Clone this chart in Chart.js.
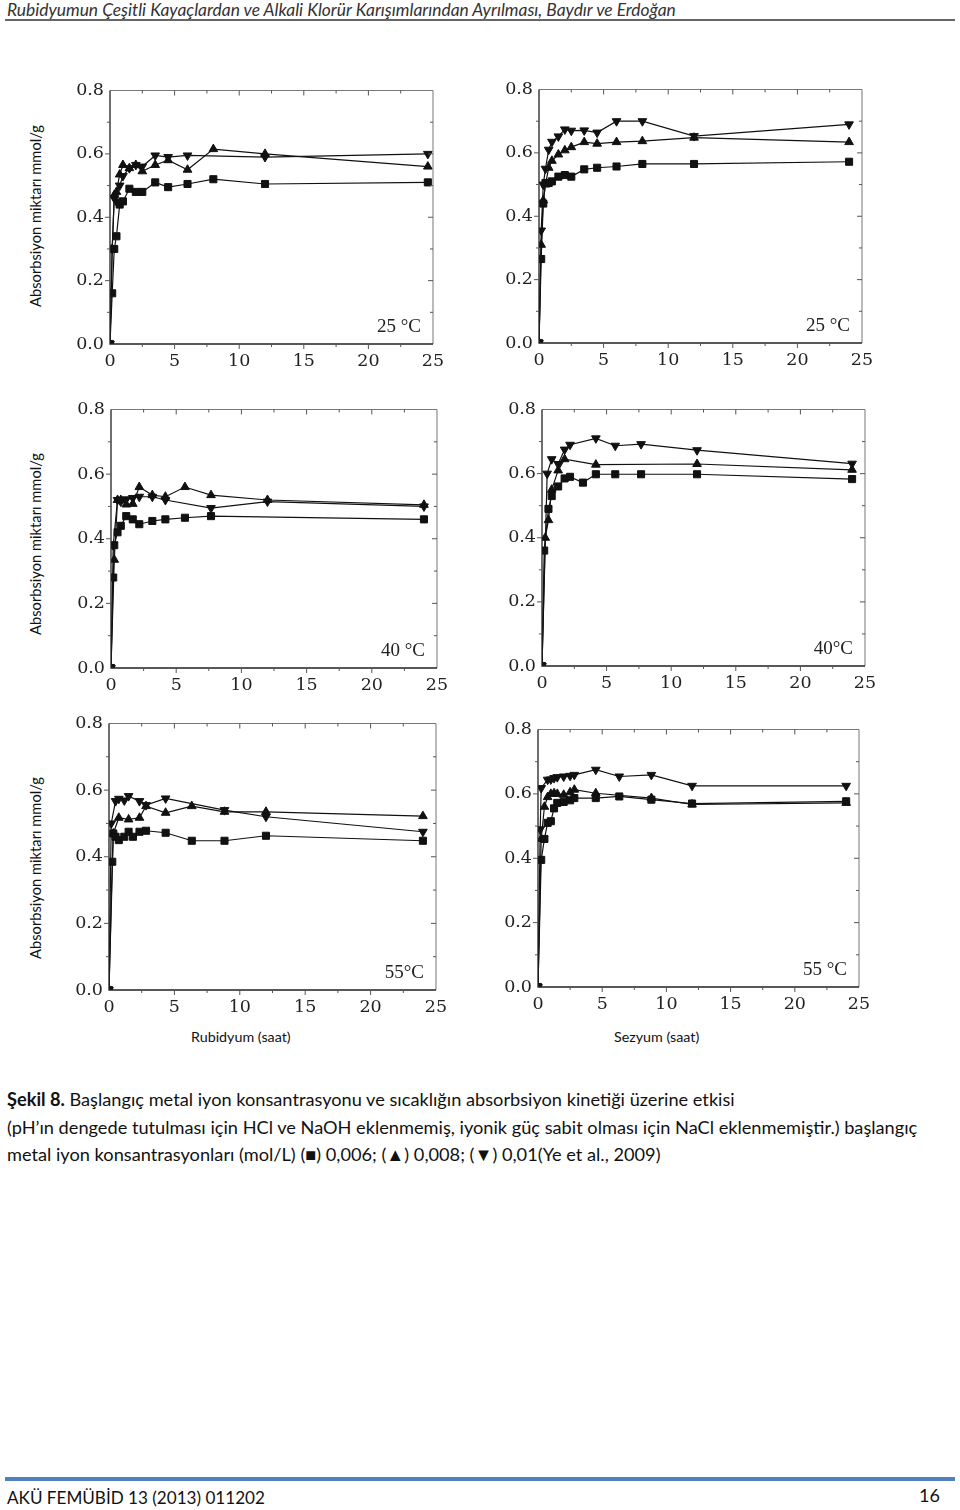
<!DOCTYPE html>
<html>
<head>
<meta charset="utf-8">
<script src="https://cdn.jsdelivr.net/npm/chart.js@4.4.0/dist/chart.umd.min.js"></script>
<style>
    body { margin: 0; background: #fff; width: 960px; height: 1510px; position: relative; overflow: hidden;
           font-family: Lato, "Noto Sans", sans-serif; color: #111; }
    .abs { position: absolute; }
    .head { left: 7px; top: -1px; font-style: italic; font-size: 17.4px; color: #333; white-space: nowrap; }
    .headline { left: 5px; top: 19px; width: 950px; height: 2px; background: #666; }
    .ylab { width: 260px; text-align: center; font-size: 14.7px; line-height: 20px; transform: rotate(-90deg); white-space: nowrap; }
    .xlab { font-size: 14.3px; white-space: nowrap; }
    .caption { left: 7px; top: 1086px; width: 950px; font-size: 18.2px; line-height: 27.5px; }
    .footline { left: 5px; top: 1477px; width: 950px; height: 4px; background: #4f81bd; }
    .foot { left: 7px; top: 1487px; font-size: 17.1px; white-space: nowrap; }
    .pageno { left: 919px; top: 1484px; font-size: 18px; }
    canvas { position: absolute; }
</style>
</head>
<body>
<div class="abs head">Rubidyumun Çeşitli Kayaçlardan ve Alkali Klorür Karışımlarından Ayrılması, Baydır ve Erdoğan</div>
<div class="abs headline"></div>

<div class="abs ylab" style="left:-95px; top:206px;">Absorbsiyon miktarı mmol/g</div>
<div class="abs ylab" style="left:-95px; top:534px;">Absorbsiyon miktarı mmol/g</div>
<div class="abs ylab" style="left:-95px; top:858px;">Absorbsiyon miktarı mmol/g</div>

<canvas id="rb25"></canvas>
<canvas id="cs25"></canvas>
<canvas id="rb40"></canvas>
<canvas id="cs40"></canvas>
<canvas id="rb55"></canvas>
<canvas id="cs55"></canvas>

<div class="abs xlab" style="left:191px; top:1028px;">Rubidyum (saat)</div>
<div class="abs xlab" style="left:614px; top:1028px;">Sezyum (saat)</div>

<div class="abs caption"><b>Şekil 8.</b> Başlangıç metal iyon konsantrasyonu ve sıcaklığın absorbsiyon kinetiği üzerine etkisi<br>(pH’ın dengede tutulması için HCl ve NaOH eklenmemiş, iyonik güç sabit olması için NaCl eklenmemiştir.) başlangıç<br>metal iyon konsantrasyonları (mol/L) (■) 0,006; (▲) 0,008; (▼) 0,01(Ye et al., 2009)</div>

<div class="abs footline"></div>
<div class="abs foot">AKÜ FEMÜBİD 13 (2013) 011202</div>
<div class="abs pageno">16</div>

<script>
(function() {
    // Rubidyum 25 C
    var rb25Time = [0, 0.17, 0.33, 0.5, 0.75, 1, 1.5, 2, 2.5, 3.5, 4.5, 6, 8, 12, 24.6];
    var rb25Sq   = [0, 0.16, 0.30, 0.34, 0.44, 0.45, 0.49, 0.48, 0.48, 0.51, 0.495, 0.505, 0.52, 0.505, 0.51];
    var rb25Up   = [0, 0.30, 0.47, 0.48, 0.535, 0.565, 0.555, 0.565, 0.545, 0.565, 0.58, 0.55, 0.615, 0.60, 0.56];
    var rb25Down = [0, 0.30, 0.46, 0.45, 0.50, 0.53, 0.555, 0.565, 0.56, 0.595, 0.59, 0.595, null, 0.59, 0.60];

    // Sezyum 25 C
    var cs25Time = [0, 0.17, 0.33, 0.5, 0.75, 1, 1.5, 2, 2.5, 3.5, 4.5, 6, 8, 12, 24];
    var cs25Sq   = [0, 0.265, 0.44, 0.505, 0.505, 0.51, 0.525, 0.53, 0.525, 0.548, 0.553, 0.557, 0.565, 0.565, 0.572];
    var cs25Up   = [0, 0.31, 0.45, 0.50, 0.553, 0.575, 0.595, 0.608, 0.618, 0.634, 0.629, 0.634, 0.637, 0.648, 0.634];
    var cs25Down = [0, 0.355, 0.50, 0.55, 0.61, 0.635, 0.652, 0.674, 0.67, 0.671, 0.664, 0.70, 0.70, 0.653, 0.69];

    // Rubidyum 40 C
    var rb40Time = [0, 0.17, 0.25, 0.5, 0.75, 1.17, 1.67, 2.17, 3.17, 4.17, 5.67, 7.67, 12, 24];
    var rb40Sq   = [0, 0.28, 0.38, 0.42, 0.44, 0.47, 0.46, 0.445, 0.455, 0.46, 0.465, 0.47, null, 0.46];
    var rb40Up   = [0, null, 0.335, 0.52, 0.52, 0.506, 0.508, 0.56, 0.535, 0.53, 0.56, 0.535, 0.52, 0.505];
    var rb40Down = [0, 0.38, null, 0.52, 0.515, 0.522, 0.526, 0.53, 0.53, 0.52, null, 0.495, 0.515, 0.50];

    // Sezyum 40 C
    var cs40Time = [0, 0.17, 0.25, 0.4, 0.5, 0.75, 1.25, 1.75, 2.17, 3.17, 4.17, 5.67, 7.67, 12, 24];
    var cs40Sq   = [0, 0.36, null, null, 0.49, 0.53, 0.56, 0.585, 0.59, 0.572, 0.598, 0.598, 0.598, 0.598, 0.583];
    var cs40Up   = [0, null, 0.40, null, 0.455, 0.55, 0.61, 0.645, null, null, 0.628, null, null, 0.63, 0.612];
    var cs40Down = [0, null, null, 0.60, null, 0.645, 0.63, 0.675, 0.69, null, 0.71, 0.687, 0.692, 0.673, 0.631];

    // Rubidyum 55 C
    var rb55Time = [0, 0.17, 0.25, 0.33, 0.5, 0.75, 1.17, 1.5, 1.83, 2.33, 2.83, 4.33, 6.33, 8.83, 12, 24];
    var rb55Sq   = [0, null, 0.385, 0.47, 0.46, 0.45, 0.46, 0.475, 0.46, 0.475, 0.478, 0.472, 0.448, 0.448, 0.463, 0.448];
    var rb55Up   = [0, null, null, 0.47, null, 0.517, null, 0.512, null, 0.517, 0.552, 0.532, 0.552, 0.535, 0.535, 0.522];
    var rb55Down = [0, 0.50, null, null, 0.567, 0.574, 0.569, 0.582, null, 0.567, 0.555, 0.575, null, 0.54, 0.52, 0.475];

    // Sezyum 55 C
    var cs55Time = [0, 0.17, 0.25, 0.5, 0.75, 1, 1.25, 1.5, 2, 2.5, 2.83, 4.5, 6.33, 8.83, 12, 24];
    var cs55Sq   = [0, null, 0.395, 0.46, 0.51, 0.515, 0.555, 0.572, 0.575, 0.58, 0.587, 0.587, 0.592, 0.582, 0.57, 0.577];
    var cs55Up   = [0, null, 0.46, 0.56, 0.59, 0.60, 0.602, 0.60, 0.597, 0.605, 0.613, 0.602, null, 0.587, 0.567, 0.572];
    var cs55Down = [0, 0.49, 0.618, null, 0.644, 0.645, 0.649, 0.652, 0.654, 0.656, 0.659, 0.675, 0.654, 0.659, 0.625, 0.625];

    var xTicks = [0, 5, 10, 15, 20, 25];
    var yTicks = [0, 0.2, 0.4, 0.6, 0.8];

    var panels = [
        { id: 'rb25', box: [110, 89, 433, 344], label: '25 °C', time: rb25Time, sq: rb25Sq, up: rb25Up, down: rb25Down },
        { id: 'cs25', box: [539, 88, 862, 343], label: '25 °C', time: cs25Time, sq: cs25Sq, up: cs25Up, down: cs25Down },
        { id: 'rb40', box: [111, 408, 437, 668], label: '40 °C', time: rb40Time, sq: rb40Sq, up: rb40Up, down: rb40Down },
        { id: 'cs40', box: [542, 408, 865, 666], label: '40°C', time: cs40Time, sq: cs40Sq, up: cs40Up, down: cs40Down },
        { id: 'rb55', box: [109, 722, 436, 990], label: '55°C', time: rb55Time, sq: rb55Sq, up: rb55Up, down: rb55Down },
        { id: 'cs55', box: [538, 728, 859, 987], label: '55 °C', time: cs55Time, sq: cs55Sq, up: cs55Up, down: cs55Down }
    ];

    var serif = '"DejaVu Serif", "Liberation Serif", serif';
    var padLeft = 45, padTop = 15, padRight = 25, padBottom = 35;

    function toPoints(times, values) {
        var pts = [];
        times.forEach(function(t, i) {
            if (values[i] !== null) pts.push({ x: t, y: values[i] });
        });
        return pts;
    }

    // frame, small ticks and the temperature text
    var framePlugin = {
        id: 'frame',
        afterDraw: function(chart) {
            var ctx = chart.ctx, a = chart.chartArea;
            var xs = chart.scales.x, ys = chart.scales.y;
            ctx.save();
            ctx.lineWidth = 1;
            ctx.strokeStyle = '#777';
            ctx.beginPath();
            ctx.moveTo(a.left, a.top); ctx.lineTo(a.right, a.top); ctx.lineTo(a.right, a.bottom);
            ctx.stroke();
            ctx.strokeStyle = '#222';
            ctx.lineWidth = 1.3;
            ctx.beginPath();
            ctx.moveTo(a.left, a.top); ctx.lineTo(a.left, a.bottom); ctx.lineTo(a.right, a.bottom);
            ctx.stroke();

            ctx.lineWidth = 1;
            ctx.strokeStyle = '#555';
            ctx.beginPath();
            for (var i = 1; i < 10; i++) {
                var px = xs.getPixelForValue(i * 2.5);
                var len = i % 2 === 0 ? 5 : 3;
                ctx.moveTo(px, a.bottom); ctx.lineTo(px, a.bottom + len);
                ctx.moveTo(px, a.top); ctx.lineTo(px, a.top + len);
            }
            for (var j = 1; j < 8; j++) {
                var py = ys.getPixelForValue(j / 10);
                var l2 = j % 2 === 0 ? 5 : 3;
                ctx.moveTo(a.left, py); ctx.lineTo(a.left - l2, py);
                ctx.moveTo(a.right, py); ctx.lineTo(a.right - l2, py);
            }
            ctx.stroke();

            ctx.fillStyle = '#222';
            ctx.font = '19px "Liberation Serif", serif';
            ctx.textAlign = 'right';
            ctx.textBaseline = 'alphabetic';
            ctx.fillText(chart.options.plugins.frame.label, a.right - 12, a.bottom - 12);
            ctx.restore();
        }
    };

    function drawPanel(p) {
        var canvas = document.getElementById(p.id);
        var w = (p.box[2] - p.box[0]) + padLeft + padRight;
        var h = (p.box[3] - p.box[1]) + padTop + padBottom;
        canvas.style.left = (p.box[0] - padLeft) + 'px';
        canvas.style.top = (p.box[1] - padTop) + 'px';
        canvas.style.width = w + 'px';
        canvas.style.height = h + 'px';
        canvas.width = w;
        canvas.height = h;

        var common = {
            showLine: true,
            borderColor: '#111',
            backgroundColor: '#111',
            pointBackgroundColor: '#111',
            pointBorderColor: '#111',
            borderWidth: 1.2,
            pointBorderWidth: 1,
            tension: 0
        };
        var data = {
            datasets: [
                Object.assign({ label: '0,006', data: toPoints(p.time, p.sq), pointStyle: 'rect', pointRadius: 5 }, common),
                Object.assign({ label: '0,008', data: toPoints(p.time, p.up), pointStyle: 'triangle', pointRadius: 5 }, common),
                Object.assign({ label: '0,01', data: toPoints(p.time, p.down), pointStyle: 'triangle', pointRotation: 180, pointRadius: 5 }, common)
            ]
        };
        var options = {
            responsive: false,
            animation: false,
            layout: { padding: { top: padTop, right: padRight, left: 0, bottom: 0 } },
            plugins: { legend: { display: false }, tooltip: { enabled: false }, frame: { label: p.label } },
            scales: {
                x: {
                    type: 'linear', min: 0, max: 25,
                    afterBuildTicks: function(s) { s.ticks = xTicks.map(function(v) { return { value: v }; }); },
                    afterFit: function(s) { s.height = padBottom; },
                    grid: { display: false, drawTicks: false },
                    border: { display: false },
                    ticks: { font: { family: serif, size: 17.5 }, color: '#222', padding: 7, maxRotation: 0 }
                },
                y: {
                    type: 'linear', min: 0, max: 0.8,
                    afterBuildTicks: function(s) { s.ticks = yTicks.map(function(v) { return { value: v }; }); },
                    afterFit: function(s) { s.width = padLeft; },
                    grid: { display: false, drawTicks: false },
                    border: { display: false },
                    ticks: { font: { family: serif, size: 17.5 }, color: '#222', padding: 6,
                             callback: function(v) { return v.toFixed(1); } }
                }
            }
        };
        new Chart(canvas.getContext('2d'), { type: 'scatter', data: data, options: options, plugins: [framePlugin] });
    }

    panels.forEach(drawPanel);
})();
</script>
</body>
</html>
